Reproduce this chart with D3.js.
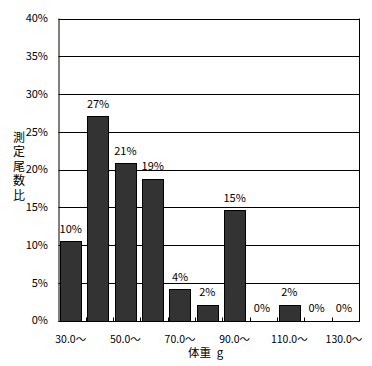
<!DOCTYPE html>
<html><head><meta charset="utf-8">
<script src="https://cdn.jsdelivr.net/npm/d3@7"></script>
<style>body{margin:0;background:#fff}svg{display:block}text{font-family:"Noto Sans CJK JP","DejaVu Sans",sans-serif;fill:#000}</style>
</head><body>
<script>
const categories = ["30.0～","40.0～","50.0～","60.0～","70.0～","80.0～","90.0～","100.0～","110.0～","120.0～","130.0～"];
const shownLabels = ["30.0～","50.0～","70.0～","90.0～","110.0～","130.0～"];
const values = [10.5, 27.1, 20.9, 18.8, 4.2, 2.1, 14.6, 0, 2.1, 0, 0];
const valueLabels = ["10%","27%","21%","19%","4%","2%","15%","0%","2%","0%","0%"];
const yTicks = [0,5,10,15,20,25,30,35,40];
const yTitle = "測定尾数比";
const xTitle = "体重\u2002g";

const W = 372, H = 366;
const m = {left: 58.5, right: 13, top: 18.5, bottom: 45.5};
const svg = d3.select("body").append("svg").attr("width", W).attr("height", H);
const x = d3.scaleBand().domain(categories).range([m.left, W - m.right]).padding(0);
const y = d3.scaleLinear().domain([0, 40]).range([H - m.bottom, m.top]);
const bw = x.bandwidth();
const barOff = bw * 0.055, barW = bw * 0.787;

// gridlines
svg.append("g").selectAll("line").data(yTicks).join("line")
  .attr("x1", m.left).attr("x2", W - m.right + 0.5)
  .attr("y1", d => Math.round(y(d)) + 0.5).attr("y2", d => Math.round(y(d)) + 0.5)
  .attr("stroke", "#000").attr("stroke-width", 1);

// y tick labels
svg.append("g").selectAll("text").data(yTicks).join("text")
  .attr("x", 48).attr("y", d => y(d)).attr("dy", "0.35em")
  .attr("text-anchor", "end").attr("font-size", 11).text(d => d + "%");

// bars
svg.append("g").selectAll("rect").data(values).join("rect")
  .attr("x", (d, i) => Math.round(x(categories[i]) + barOff) + 0.5)
  .attr("width", Math.round(barW))
  .attr("y", d => Math.round(y(d)) + 0.5)
  .attr("height", d => Math.round(y(0)) - Math.round(y(d)))
  .attr("fill", "#333").attr("stroke", "#000").attr("stroke-width", 1)
  .attr("display", d => d > 0 ? null : "none");

// value labels
svg.append("g").selectAll("text").data(values).join("text")
  .attr("x", (d, i) => x(categories[i]) + barOff + barW / 2)
  .attr("y", d => y(d) - 12).attr("dy", "0.35em")
  .attr("text-anchor", "middle").attr("font-size", 11)
  .text((d, i) => valueLabels[i]);

// frame
svg.append("line").attr("x1", m.left + 0.5).attr("x2", m.left + 0.5)
  .attr("y1", y(40)).attr("y2", Math.round(y(0)) + 1).attr("stroke", "#000");
svg.append("line").attr("x1", W - m.right + 0.5).attr("x2", W - m.right + 0.5)
  .attr("y1", y(40)).attr("y2", Math.round(y(0)) + 1).attr("stroke", "#000");

// bottom ticks at category boundaries (inside)
const bounds = categories.slice(1).map(c => x(c));
svg.append("g").selectAll("line").data(bounds).join("line")
  .attr("x1", d => Math.round(d) + 0.5).attr("x2", d => Math.round(d) + 0.5)
  .attr("y1", Math.round(y(0)) + 0.5).attr("y2", Math.round(y(0)) - 3.5)
  .attr("stroke", "#000");

// x labels
svg.append("g").selectAll("text").data(shownLabels).join("text")
  .attr("x", d => x(d) + barOff + barW / 2).attr("y", 339).attr("dy", "0.35em")
  .attr("text-anchor", "middle").attr("font-size", 10.5).text(d => d);

// x title
svg.append("text").attr("x", 188).attr("y", 353).attr("dy", "0.35em")
  .attr("text-anchor", "start").attr("font-size", 11.5).text(xTitle);

// y title (vertical)
svg.append("text").attr("x", 19).attr("y", 131)
  .style("writing-mode", "vertical-rl").style("text-orientation", "upright")
  .attr("letter-spacing", 2.6).attr("font-size", 12).text(yTitle);
</script>
</body></html>
